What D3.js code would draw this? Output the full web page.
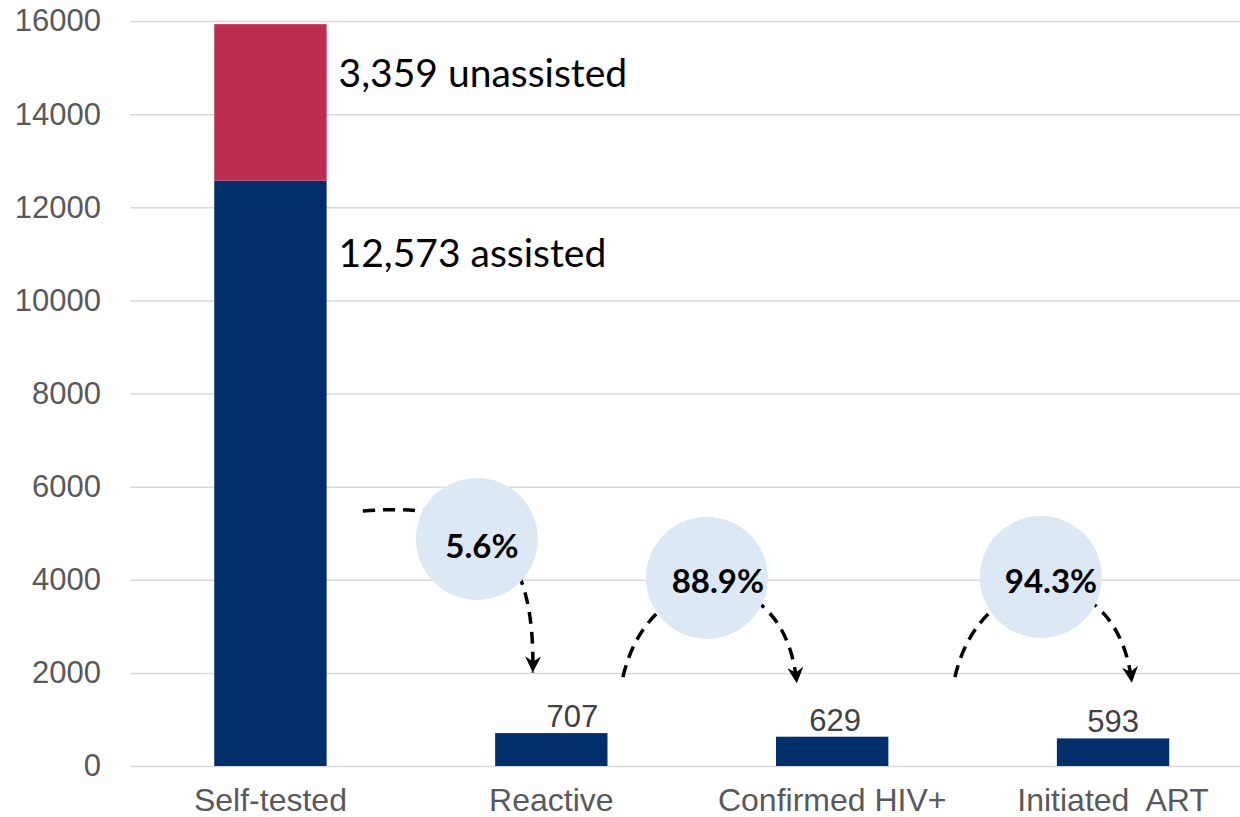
<!DOCTYPE html>
<html>
<head>
<meta charset="utf-8">
<script src="https://cdn.jsdelivr.net/npm/d3@7"></script>
<style>
  html, body { margin: 0; padding: 0; background: #fff; }
  svg { display: block; }
  .axis text { font-family: "Liberation Sans", Arial, sans-serif; fill: #595959; }
  .axis .domain { display: none; }
  .grid line { stroke: #d9d9d9; stroke-width: 1.5px; }
</style>
</head>
<body>
<svg id="graph" width="1240" height="817"></svg>
<script>
(function() {
// values
const categories = ['Self-tested', 'Reactive', 'Confirmed HIV+', 'Initiated  ART'];
const assisted = [12573, 707, 629, 593];     // navy segment
const unassisted = [3359, 0, 0, 0];          // red segment
const valueLabels = ['', '707', '629', '593'];
const stackLabels = ['12,573 assisted', '3,359 unassisted'];
const conversions = ['5.6%', '88.9%', '94.3%'];
const yTicks = [0, 2000, 4000, 6000, 8000, 10000, 12000, 14000, 16000];

// annotation layout (x in category index units, y in chart values)
const bubbleX = [0.735, 1.554, 2.743];
const bubbleV = [4875, 4038, 4059];
const bubbleTextX = [0.753, 1.593, 2.779];
const bubbleTextV = [4467, 3715, 3715];
const arcs = [
  [[0.329, 5477], [0.817, 5713], [0.942, 4424], [0.934, 2010]],
  [[1.255, 1911], [1.351, 4424], [1.832, 4532], [1.874, 1775]],
  [[2.437, 1911], [2.533, 4424], [3.014, 4532], [3.067, 1790]]
];
const stackLabelV = [10717, 14583];
const valueLabelShift = [0, 21, 3, 0];

const navy = '#002f6c';
const red = '#be2c4f';

const svg = d3.select('#graph');
const svg_w = 1240;
const x_left = 130;

const x = d3.scaleBand()
  .domain(categories)
  .range([x_left, 1253.5])
  .paddingInner(0.6)
  .paddingOuter(0.3);

const y = d3.scaleLinear()
  .domain([0, 16000])
  .range([766, 21]);

const center = c => x(c) + x.bandwidth() / 2;
const xi = d3.scaleLinear()
  .domain([0, categories.length - 1])
  .range([center(categories[0]), center(categories[categories.length - 1])]);

// grid + y labels
svg.append('g')
  .attr('class', 'axis grid')
  .attr('transform', `translate(${x_left},0)`)
  .call(d3.axisLeft(y)
    .tickValues(yTicks)
    .tickFormat(d3.format('d'))
    .tickSize(-(svg_w - x_left))
    .tickPadding(29))
  .selectAll('text')
  .attr('font-size', 31);

// category labels
svg.append('g')
  .attr('class', 'axis')
  .attr('transform', `translate(0,${y(0)})`)
  .call(d3.axisBottom(x).tickSize(0).tickPadding(22))
  .selectAll('text')
  .attr('font-size', 32)
  .style('white-space', 'pre');

// stacked bars
const rows = categories.map((c, i) => ({ cat: c, assisted: assisted[i], unassisted: unassisted[i] }));
const stack = d3.stack().keys(['assisted', 'unassisted'])(rows);
const colors = d3.scaleOrdinal().domain(['assisted', 'unassisted']).range([navy, red]);

svg.append('g')
  .selectAll('g')
  .data(stack)
  .join('g')
  .attr('fill', d => colors(d.key))
  .selectAll('rect')
  .data(d => d.filter(s => s[1] > s[0]))
  .join('rect')
  .attr('x', d => x(d.data.cat))
  .attr('y', d => y(d[1]))
  .attr('width', x.bandwidth())
  .attr('height', d => y(d[0]) - y(d[1]));

// labels beside the stacked bar
svg.append('g')
  .selectAll('text')
  .data(stackLabels)
  .join('text')
  .attr('x', x(categories[0]) + x.bandwidth() + 12)
  .attr('y', (d, i) => y(stackLabelV[i]))
  .attr('font-family', 'Lato, "Open Sans", sans-serif')
  .attr('font-size', 39)
  .attr('fill', '#000')
  .text(d => d);

// value labels
svg.append('g')
  .selectAll('text')
  .data(valueLabels)
  .join('text')
  .attr('x', (d, i) => center(categories[i]) + valueLabelShift[i])
  .attr('y', (d, i) => y(assisted[i] + unassisted[i]) - 6)
  .attr('text-anchor', 'middle')
  .attr('font-family', '"Liberation Sans", Arial, sans-serif')
  .attr('font-size', 31)
  .attr('fill', '#404040')
  .text(d => d);

// arrow marker
svg.append('defs')
  .append('marker')
  .attr('id', 'arrow')
  .attr('markerUnits', 'userSpaceOnUse')
  .attr('viewBox', '-17 -9 18 18')
  .attr('refX', 0)
  .attr('refY', 0)
  .attr('markerWidth', 18)
  .attr('markerHeight', 18)
  .attr('orient', 'auto')
  .append('path')
  .attr('d', 'M0,0 L-16,-8 L-11,0 L-16,8 Z')
  .attr('fill', '#000');

// dashed arcs
svg.append('g')
  .selectAll('path')
  .data(arcs)
  .join('path')
  .attr('d', a => {
    const p = d3.path();
    const pt = a.map(q => [xi(q[0]), y(q[1])]);
    p.moveTo(pt[0][0], pt[0][1]);
    p.bezierCurveTo(pt[1][0], pt[1][1], pt[2][0], pt[2][1], pt[3][0], pt[3][1]);
    return p.toString();
  })
  .attr('fill', 'none')
  .attr('stroke', '#000')
  .attr('stroke-width', 3.5)
  .attr('stroke-dasharray', '12,8')
  .attr('marker-end', 'url(#arrow)');

// conversion bubbles
svg.append('g')
  .selectAll('circle')
  .data(conversions)
  .join('circle')
  .attr('cx', (d, i) => xi(bubbleX[i]))
  .attr('cy', (d, i) => y(bubbleV[i]))
  .attr('r', 61)
  .attr('fill', '#dde8f5');

svg.append('g')
  .selectAll('text')
  .data(conversions)
  .join('text')
  .attr('x', (d, i) => xi(bubbleTextX[i]))
  .attr('y', (d, i) => y(bubbleTextV[i]))
  .attr('text-anchor', 'middle')
  .attr('font-family', 'Lato, "Open Sans", sans-serif')
  .attr('font-weight', 'bold')
  .attr('font-size', 33)
  .attr('fill', '#000')
  .text(d => d);
})();
</script>
</body>
</html>
